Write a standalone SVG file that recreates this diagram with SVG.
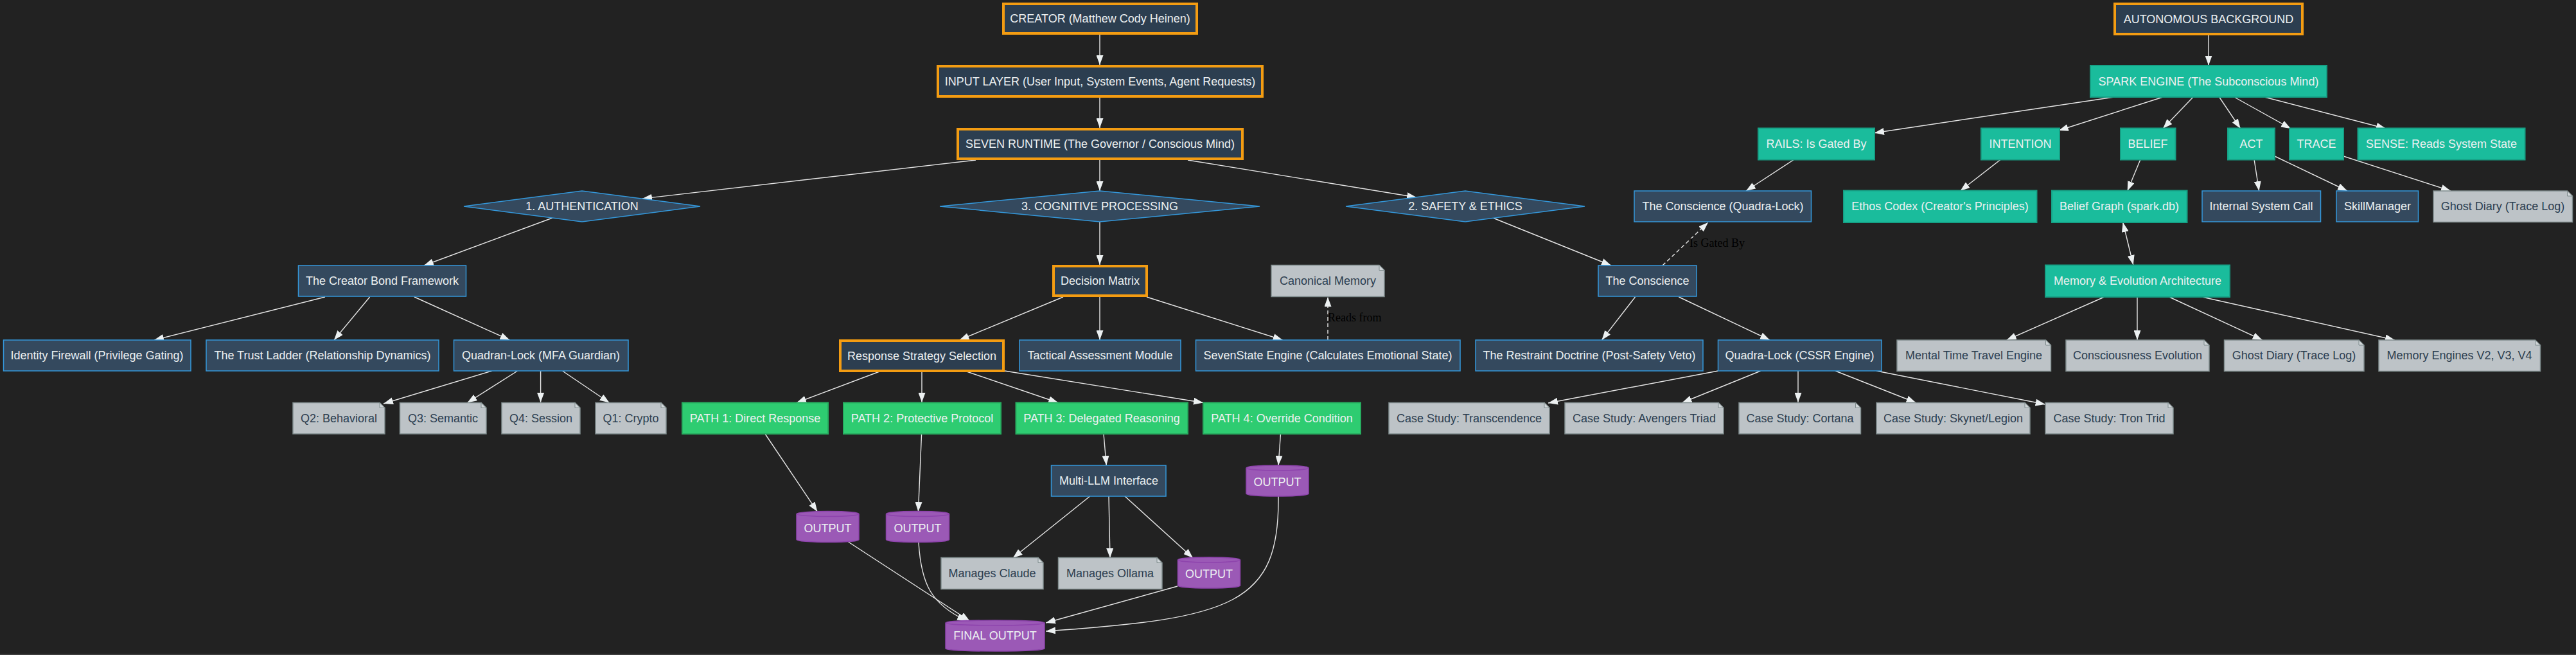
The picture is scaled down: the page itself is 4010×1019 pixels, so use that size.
<svg xmlns="http://www.w3.org/2000/svg" width="4010" height="1019" viewBox="0 0 4010 1019">
<style>
.t{font-family:"Liberation Sans",Arial,sans-serif;font-size:18px;fill:#ecf0f1;text-anchor:middle;dominant-baseline:central}
.nt{fill:#2c3e50}
.lbl{font-family:"Liberation Serif","Times New Roman",serif;font-size:18px;fill:#000;dominant-baseline:central}
.or{fill:#2c3e50;stroke:#f39c12;stroke-width:4}
.dk{fill:#34495e;stroke:#3498db;stroke-width:1.5}
.tl{fill:#1abc9c;stroke:#16a085;stroke-width:2}
.gr{fill:#2ecc71;stroke:#27ae60;stroke-width:2}
.nb{fill:#bdc3c7;stroke:#7f8c8d;stroke-width:1.5}
.nf{fill:#d0d5d8;stroke:#7f8c8d;stroke-width:1}
.cy{fill:#9b59b6;stroke:#8e44ad;stroke-width:1.5}
.e{stroke:#e6e6e6;stroke-width:1.4;fill:none;marker-end:url(#ah)}
.d{stroke-dasharray:6 4}
</style>
<defs>
<marker id="ah" markerWidth="15" markerHeight="11" refX="15" refY="5.5" orient="auto-start-reverse" markerUnits="userSpaceOnUse"><path d="M0,0 L15,5.5 L0,11 z" fill="#ecf0f1"/></marker>
</defs>
<rect x="0" y="0" width="4010" height="1019" fill="#222222"/>
<rect x="0" y="1017" width="4010" height="2" fill="#3d3d3d"/>

<g id="connectors">
<line class="e" x1="1712" y1="54" x2="1712" y2="101"/>
<line class="e" x1="1712" y1="152" x2="1712" y2="199"/>
<line class="e" x1="1519" y1="249" x2="1000" y2="309"/>
<line class="e" x1="1712" y1="249" x2="1712" y2="297"/>
<line class="e" x1="1849" y1="249" x2="2205" y2="307"/>
<line class="e" x1="860" y1="339" x2="660" y2="413"/>
<line class="e" x1="1712" y1="345" x2="1712" y2="412"/>
<line class="e" x1="2324" y1="339" x2="2508" y2="413"/>
<line class="e" x1="506" y1="462" x2="240" y2="529"/>
<line class="e" x1="575.6" y1="462" x2="520" y2="529"/>
<line class="e" x1="645" y1="462" x2="793.5" y2="529"/>
<line class="e" x1="766" y1="577" x2="597" y2="628"/>
<line class="e" x1="805.6" y1="577" x2="727.5" y2="626.5"/>
<line class="e" x1="841.6" y1="577" x2="841.6" y2="626"/>
<line class="e" x1="875.5" y1="577" x2="948.6" y2="626.5"/>
<line class="e" x1="1655" y1="462" x2="1493.5" y2="529"/>
<line class="e" x1="1712" y1="462" x2="1712" y2="529"/>
<line class="e" x1="1785" y1="462" x2="1996.7" y2="529"/>
<line class="e d" x1="2067" y1="529" x2="2067" y2="462"/>
<text class="lbl" x="2067" y="494">Reads from</text>
<line class="e d" x1="2588" y1="413" x2="2659" y2="346"/>
<text class="lbl" x="2630" y="378">Is Gated By</text>
<line class="e" x1="2545.5" y1="462" x2="2493.5" y2="529"/>
<line class="e" x1="2613.4" y1="462" x2="2755" y2="529"/>
<line class="e" x1="1371.7" y1="577" x2="1240" y2="626.5"/>
<line class="e" x1="1435" y1="577" x2="1435" y2="626"/>
<line class="e" x1="1502" y1="577" x2="1647.3" y2="626.5"/>
<line class="e" x1="1564" y1="577" x2="1873" y2="626.5"/>
<line class="e" x1="1191" y1="675" x2="1272.4" y2="796"/>
<line class="e" x1="1434.6" y1="675" x2="1429.4" y2="796"/>
<line class="e" x1="1718" y1="675" x2="1722.3" y2="724"/>
<line class="e" x1="1993.5" y1="675" x2="1990" y2="724"/>
<line class="e" x1="1696.7" y1="772" x2="1576.8" y2="868"/>
<line class="e" x1="1726" y1="772" x2="1728" y2="868"/>
<line class="e" x1="1751" y1="772" x2="1857" y2="868"/>
<line class="e" x1="1320.5" y1="843" x2="1509.5" y2="966"/>
<path class="e" d="M1430,844 C1434,910 1450,940 1505,966"/>
<line class="e" x1="1833" y1="912" x2="1628" y2="969"/>
<path class="e" d="M1990,772 C1992,940 1920,962 1628,982"/>
<line class="e" x1="3438" y1="54.7" x2="3438" y2="101.7"/>
<line class="e" x1="3291" y1="151" x2="2918" y2="206.7"/>
<line class="e" x1="3367" y1="151" x2="3204.8" y2="203"/>
<line class="e" x1="3414" y1="151" x2="3367" y2="200"/>
<line class="e" x1="3454.7" y1="151" x2="3487.6" y2="200"/>
<line class="e" x1="3478" y1="151" x2="3566" y2="200"/>
<line class="e" x1="3525" y1="151" x2="3714" y2="200"/>
<line class="e" x1="2793" y1="248" x2="2718" y2="297"/>
<line class="e" x1="3114.6" y1="248" x2="3051.5" y2="297"/>
<line class="e" x1="3332" y1="248" x2="3311.7" y2="297"/>
<line class="e" x1="3509" y1="248" x2="3516.6" y2="297"/>
<line class="e" x1="3541" y1="243" x2="3654" y2="297"/>
<line class="e" x1="3648" y1="243" x2="3815" y2="297"/>
<line class="e" style="marker-start:url(#ah)" x1="3304.7" y1="346" x2="3320.8" y2="412"/>
<line class="e" x1="3275.7" y1="462" x2="3123.7" y2="529"/>
<line class="e" x1="3327" y1="462" x2="3327" y2="529"/>
<line class="e" x1="3376.8" y1="462" x2="3521.7" y2="529"/>
<line class="e" x1="3428" y1="462" x2="3728" y2="529"/>
<line class="e" x1="2674.5" y1="577" x2="2410" y2="627"/>
<line class="e" x1="2740.8" y1="577" x2="2618.5" y2="626.5"/>
<line class="e" x1="2799" y1="577" x2="2799" y2="626"/>
<line class="e" x1="2857" y1="577" x2="2982.6" y2="626.5"/>
<line class="e" x1="2921" y1="577" x2="3183.6" y2="629"/>
</g>

<!-- orange main nodes -->
<g id="creator"><rect class="or" x="1562" y="6" width="301" height="46"/><text class="t" x="1712.5" y="29">CREATOR (Matthew Cody Heinen)</text></g>
<g id="input"><rect class="or" x="1460" y="103" width="505" height="47"/><text class="t" x="1712.5" y="126.5">INPUT LAYER (User Input, System Events, Agent Requests)</text></g>
<g id="seven"><rect class="or" x="1491" y="201" width="443" height="46"/><text class="t" x="1712.5" y="224">SEVEN RUNTIME (The Governor / Conscious Mind)</text></g>
<g id="decision"><rect class="or" x="1640" y="414" width="145" height="46"/><text class="t" x="1712.5" y="437">Decision Matrix</text></g>
<g id="response"><rect class="or" x="1308" y="530" width="254" height="47"/><text class="t" x="1435" y="553.5">Response Strategy Selection</text></g>
<g id="autonomous"><rect class="or" x="3292" y="6" width="292" height="47"/><text class="t" x="3438" y="29.5">AUTONOMOUS BACKGROUND</text></g>

<!-- diamonds -->
<g id="auth"><polygon class="dk" points="722,321 906,297 1090,321 906,345"/><text class="t" x="906" y="321">1. AUTHENTICATION</text></g>
<g id="cognitive"><polygon class="dk" points="1463,321 1712,297 1961,321 1712,345"/><text class="t" x="1712" y="321">3. COGNITIVE PROCESSING</text></g>
<g id="safety"><polygon class="dk" points="2095,321 2281,297 2467,321 2281,345"/><text class="t" x="2281" y="321">2. SAFETY &amp; ETHICS</text></g>

<!-- dark nodes -->
<g id="creatorBond"><rect class="dk" x="464.5" y="413" width="261" height="48"/><text class="t" x="595" y="437">The Creator Bond Framework</text></g>
<g id="identity"><rect class="dk" x="5.5" y="529" width="291.5" height="48"/><text class="t" x="151" y="553">Identity Firewall (Privilege Gating)</text></g>
<g id="trust"><rect class="dk" x="321" y="529" width="362" height="48"/><text class="t" x="502" y="553">The Trust Ladder (Relationship Dynamics)</text></g>
<g id="quadran"><rect class="dk" x="706.5" y="529" width="271.5" height="48"/><text class="t" x="842" y="553">Quadran-Lock (MFA Guardian)</text></g>
<g id="tactical"><rect class="dk" x="1587" y="529" width="251" height="48"/><text class="t" x="1712.5" y="553">Tactical Assessment Module</text></g>
<g id="sevenstate"><rect class="dk" x="1861.5" y="529" width="411.5" height="48"/><text class="t" x="2067" y="553">SevenState Engine (Calculates Emotional State)</text></g>
<g id="multillm"><rect class="dk" x="1636.5" y="724" width="178.5" height="48"/><text class="t" x="1726" y="748">Multi-LLM Interface</text></g>
<g id="conscienceQL"><rect class="dk" x="2544" y="297" width="275.5" height="48"/><text class="t" x="2682" y="321">The Conscience (Quadra-Lock)</text></g>
<g id="conscience"><rect class="dk" x="2488" y="413" width="153" height="48"/><text class="t" x="2564.5" y="437">The Conscience</text></g>
<g id="restraint"><rect class="dk" x="2297" y="529" width="354" height="48"/><text class="t" x="2474" y="553">The Restraint Doctrine (Post-Safety Veto)</text></g>
<g id="quadraCSSR"><rect class="dk" x="2674.5" y="529" width="254.5" height="48"/><text class="t" x="2801.5" y="553">Quadra-Lock (CSSR Engine)</text></g>
<g id="internal"><rect class="dk" x="3428" y="297" width="184.5" height="48"/><text class="t" x="3520" y="321">Internal System Call</text></g>
<g id="skill"><rect class="dk" x="3637" y="297" width="127.5" height="48"/><text class="t" x="3701" y="321">SkillManager</text></g>

<!-- teal nodes -->
<g id="spark"><rect class="tl" x="3254" y="102" width="368" height="49"/><text class="t" x="3438" y="126.5">SPARK ENGINE (The Subconscious Mind)</text></g>
<g id="rails"><rect class="tl" x="2737" y="199.5" width="181" height="49"/><text class="t" x="2827.5" y="224">RAILS: Is Gated By</text></g>
<g id="intention"><rect class="tl" x="3084" y="199.5" width="122" height="49"/><text class="t" x="3145" y="224">INTENTION</text></g>
<g id="belief"><rect class="tl" x="3301" y="199.5" width="85.5" height="49"/><text class="t" x="3343.5" y="224">BELIEF</text></g>
<g id="act"><rect class="tl" x="3468" y="199.5" width="73" height="49"/><text class="t" x="3504.5" y="224">ACT</text></g>
<g id="trace"><rect class="tl" x="3564" y="199.5" width="84" height="49"/><text class="t" x="3606" y="224">TRACE</text></g>
<g id="sense"><rect class="tl" x="3670.5" y="199.5" width="260" height="49"/><text class="t" x="3800.5" y="224">SENSE: Reads System State</text></g>
<g id="ethos"><rect class="tl" x="2870" y="296.5" width="300.5" height="49.5"/><text class="t" x="3020" y="321">Ethos Codex (Creator's Principles)</text></g>
<g id="beliefGraph"><rect class="tl" x="3194" y="296.5" width="210.5" height="49.5"/><text class="t" x="3299" y="321">Belief Graph (spark.db)</text></g>
<g id="memevo"><rect class="tl" x="3184" y="412.5" width="287" height="49.5"/><text class="t" x="3327.5" y="437">Memory &amp; Evolution Architecture</text></g>

<!-- green paths -->
<g id="path1"><rect class="gr" x="1062" y="626.5" width="227" height="48.5"/><text class="t" x="1175.5" y="650.5">PATH 1: Direct Response</text></g>
<g id="path2"><rect class="gr" x="1313" y="626.5" width="245" height="48.5"/><text class="t" x="1435.5" y="650.5">PATH 2: Protective Protocol</text></g>
<g id="path3"><rect class="gr" x="1581.5" y="626.5" width="267.5" height="48.5"/><text class="t" x="1715" y="650.5">PATH 3: Delegated Reasoning</text></g>
<g id="path4"><rect class="gr" x="1873" y="626.5" width="245" height="48.5"/><text class="t" x="1995.5" y="650.5">PATH 4: Override Condition</text></g>

<!-- notes -->
<g id="q2"><path class="nb" d="M456,626.5 H591 L599,634.5 V675 H456 Z"/><path class="nf" d="M591,626.5 V634.5 H599 Z"/><text class="t nt" x="527.5" y="650.5">Q2: Behavioral</text></g>
<g id="q3"><path class="nb" d="M622.5,626.5 H749 L757,634.5 V675 H622.5 Z"/><path class="nf" d="M749,626.5 V634.5 H757 Z"/><text class="t nt" x="689.5" y="650.5">Q3: Semantic</text></g>
<g id="q4"><path class="nb" d="M781,626.5 H895 L903,634.5 V675 H781 Z"/><path class="nf" d="M895,626.5 V634.5 H903 Z"/><text class="t nt" x="842" y="650.5">Q4: Session</text></g>
<g id="q1"><path class="nb" d="M927,626.5 H1029 L1037,634.5 V675 H927 Z"/><path class="nf" d="M1029,626.5 V634.5 H1037 Z"/><text class="t nt" x="982" y="650.5">Q1: Crypto</text></g>
<g id="canonical"><path class="nb" d="M1979,412.5 H2147 L2155,420.5 V461.5 H1979 Z"/><path class="nf" d="M2147,412.5 V420.5 H2155 Z"/><text class="t nt" x="2067" y="437">Canonical Memory</text></g>
<g id="claude"><path class="nb" d="M1465,867.5 H1616 L1624,875.5 V916.5 H1465 Z"/><path class="nf" d="M1616,867.5 V875.5 H1624 Z"/><text class="t nt" x="1544.5" y="892">Manages Claude</text></g>
<g id="ollama"><path class="nb" d="M1647.5,867.5 H1801 L1809,875.5 V916.5 H1647.5 Z"/><path class="nf" d="M1801,867.5 V875.5 H1809 Z"/><text class="t nt" x="1728" y="892">Manages Ollama</text></g>
<g id="transcendence"><path class="nb" d="M2162,626.5 H2404 L2412,634.5 V675 H2162 Z"/><path class="nf" d="M2404,626.5 V634.5 H2412 Z"/><text class="t nt" x="2287" y="650.5">Case Study: Transcendence</text></g>
<g id="avengers"><path class="nb" d="M2436,626.5 H2675 L2683,634.5 V675 H2436 Z"/><path class="nf" d="M2675,626.5 V634.5 H2683 Z"/><text class="t nt" x="2559.5" y="650.5">Case Study: Avengers Triad</text></g>
<g id="cortana"><path class="nb" d="M2707,626.5 H2888.5 L2896.5,634.5 V675 H2707 Z"/><path class="nf" d="M2888.5,626.5 V634.5 H2896.5 Z"/><text class="t nt" x="2802" y="650.5">Case Study: Cortana</text></g>
<g id="skynet"><path class="nb" d="M2921,626.5 H3152 L3160,634.5 V675 H2921 Z"/><path class="nf" d="M3152,626.5 V634.5 H3160 Z"/><text class="t nt" x="3040.5" y="650.5">Case Study: Skynet/Legion</text></g>
<g id="tron"><path class="nb" d="M3184,626.5 H3375 L3383,634.5 V675 H3184 Z"/><path class="nf" d="M3375,626.5 V634.5 H3383 Z"/><text class="t nt" x="3283.5" y="650.5">Case Study: Tron Trid</text></g>
<g id="ghost1"><path class="nb" d="M3788,297 H3996.5 L4004.5,305 V345.5 H3788 Z"/><path class="nf" d="M3996.5,297 V305 H4004.5 Z"/><text class="t nt" x="3896" y="321">Ghost Diary (Trace Log)</text></g>
<g id="mental"><path class="nb" d="M2953,529 H3184.5 L3192.5,537 V577.5 H2953 Z"/><path class="nf" d="M3184.5,529 V537 H3192.5 Z"/><text class="t nt" x="3072.5" y="553">Mental Time Travel Engine</text></g>
<g id="consciousness"><path class="nb" d="M3216,529 H3431 L3439,537 V577.5 H3216 Z"/><path class="nf" d="M3431,529 V537 H3439 Z"/><text class="t nt" x="3327.5" y="553">Consciousness Evolution</text></g>
<g id="ghost2"><path class="nb" d="M3462.5,529 H3672 L3680,537 V577.5 H3462.5 Z"/><path class="nf" d="M3672,529 V537 H3680 Z"/><text class="t nt" x="3571" y="553">Ghost Diary (Trace Log)</text></g>
<g id="memengines"><path class="nb" d="M3703,529 H3946.5 L3954.5,537 V577.5 H3703 Z"/><path class="nf" d="M3946.5,529 V537 H3954.5 Z"/><text class="t nt" x="3828.5" y="553">Memory Engines V2, V3, V4</text></g>

<!-- cylinders -->
<g id="out4"><path class="cy" d="M1940,728 a48.5,4 0 0 0 97,0 a48.5,4 0 0 0 -97,0 l0,40 a48.5,4 0 0 0 97,0 l0,-40"/><text class="t" x="1988.5" y="750">OUTPUT</text></g>
<g id="out1"><path class="cy" d="M1240,799.5 a48.5,4 0 0 0 97,0 a48.5,4 0 0 0 -97,0 l0,40 a48.5,4 0 0 0 97,0 l0,-40"/><text class="t" x="1288.5" y="821.5">OUTPUT</text></g>
<g id="out2"><path class="cy" d="M1379.5,799.5 a49,4 0 0 0 98,0 a49,4 0 0 0 -98,0 l0,40 a49,4 0 0 0 98,0 l0,-40"/><text class="t" x="1428.5" y="821.5">OUTPUT</text></g>
<g id="out3"><path class="cy" d="M1833.5,871 a48.5,4 0 0 0 97,0 a48.5,4 0 0 0 -97,0 l0,40 a48.5,4 0 0 0 97,0 l0,-40"/><text class="t" x="1882" y="893">OUTPUT</text></g>
<g id="final"><path class="cy" d="M1472,969 a77,4 0 0 0 154,0 a77,4 0 0 0 -154,0 l0,40 a77,4 0 0 0 154,0 l0,-40"/><text class="t" x="1549" y="989">FINAL OUTPUT</text></g>
</svg>
